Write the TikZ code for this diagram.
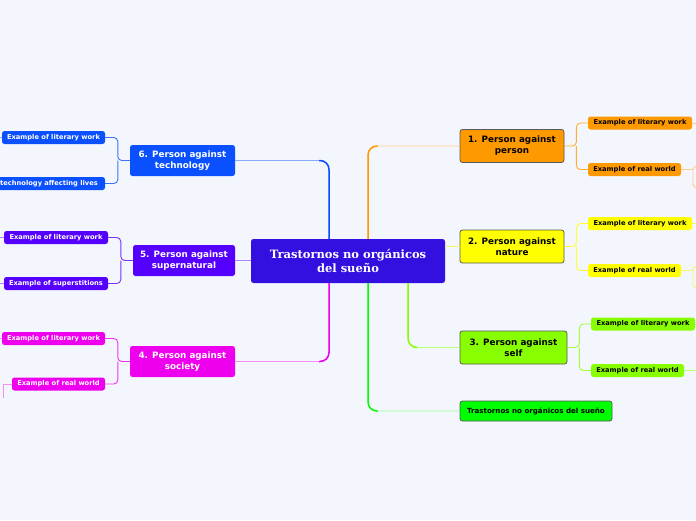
\documentclass[tikz,border=0pt]{standalone}
\usepackage{fontspec}
\setmainfont{DejaVu Sans}
\newfontfamily\centerfont{DejaVu Serif}
\begin{document}
\begin{tikzpicture}[x=1pt,y=-1pt,
  every node/.style={inner sep=0pt, align=center, rounded corners=2.5pt},
  centerbox/.style={fill=cCenter, text=white, minimum width=194pt, minimum height=44pt, font=\centerfont\bfseries\fontsize{11.5}{14.5}\selectfont},
  rbranch/.style={draw=black!65, line width=0.8pt, text=black, minimum height=33pt, font=\bfseries\fontsize{8.8}{11}\selectfont},
  lbranch/.style={text=white, minimum height=31pt, font=\bfseries\fontsize{8.8}{11}\selectfont},
  rleaf/.style={text=black, minimum height=13pt, font=\bfseries\fontsize{6.7}{7}\selectfont},
  lleaf/.style={text=white, minimum height=13pt, font=\bfseries\fontsize{6.7}{7}\selectfont},
  link/.style={line width=0.9pt, rounded corners=9pt},
  stem/.style={line width=1.5pt, rounded corners=9pt},
  twig/.style={line width=0.9pt, rounded corners=4pt}]
\definecolor{bg}{HTML}{F3F6FD}
\definecolor{cCenter}{HTML}{3410E0}
\definecolor{cOr}{HTML}{FF9900}\definecolor{lOr}{HTML}{FFCC88}
\definecolor{cYe}{HTML}{FFFF00}\definecolor{lYe}{HTML}{F4F470}
\definecolor{cLi}{HTML}{88FF00}\definecolor{lLi}{HTML}{BBFF77}
\definecolor{cGr}{HTML}{00FF00}\definecolor{lGr}{HTML}{99FF99}
\definecolor{cBl}{HTML}{0A50FF}\definecolor{lBl}{HTML}{88AAFF}
\definecolor{cVi}{HTML}{5500FF}\definecolor{lVi}{HTML}{AA88FF}
\definecolor{cMa}{HTML}{EE00EE}\definecolor{lMa}{HTML}{F690F6}

\path[fill=bg] (0,0) rectangle (696,520);
\useasboundingbox (0,0) rectangle (696,520);

% nodes
\node[centerbox] (c) at (348,261) {Trastornos no orgánicos\\del sueño};
\node[rbranch, fill=cOr, minimum width=104pt] (n1) at (512,146) {1. Person against\\person};
\node[rbranch, fill=cYe, minimum width=104pt] (n2) at (512,246.5) {2. Person against\\nature};
\node[rbranch, fill=cLi, minimum width=107pt] (n3) at (513.5,347.5) {3. Person against\\self};
\node[rbranch, fill=cGr, minimum width=152pt, minimum height=20pt, font=\bfseries\fontsize{7.1}{8}\selectfont] (ng) at (536,411) {Trastornos no orgánicos del sueño};
\node[lbranch, fill=cBl, minimum width=105pt] (n6) at (182.5,160.5) {6. Person against\\technology};
\node[lbranch, fill=cVi, minimum width=102pt] (n5) at (184,260.5) {5. Person against\\supernatural};
\node[lbranch, fill=cMa, minimum width=105pt] (n4) at (182.5,361.5) {4. Person against\\society};

\node[rleaf, fill=cOr, minimum width=104pt] (o1) at (640,123) {Example of literary work};
\node[rleaf, fill=cOr, minimum width=93pt] (o2) at (634.5,169.5) {Example of real world};
\node[rleaf, fill=cYe, minimum width=104pt] (y1) at (640,223.5) {Example of literary work};
\node[rleaf, fill=cYe, minimum width=93pt] (y2) at (634.5,270.5) {Example of real world};
\node[rleaf, fill=cLi, minimum width=104pt] (l1) at (643,324) {Example of literary work};
\node[rleaf, fill=cLi, minimum width=93pt] (l2) at (637.5,370.5) {Example of real world};

\node[lleaf, fill=cBl, minimum width=103pt] (b1) at (53.5,137.5) {Example of literary work};
\node[lleaf, fill=cBl, minimum width=112pt] (b2) at (49,183.5) {technology affecting lives};
\node[lleaf, fill=cVi, minimum width=104pt] (p1) at (56,237.5) {Example of literary work};
\node[lleaf, fill=cVi, minimum width=104pt] (p2) at (56,283.5) {Example of superstitions};
\node[lleaf, fill=cMa, minimum width=103pt] (m1) at (53.5,338.5) {Example of literary work};
\node[lleaf, fill=cMa, minimum width=93pt] (m2) at (58.5,384) {Example of real world};

% main connectors: light full path, then saturated stem with its corner
\draw[link, lBl] ([xshift=-19pt]c.north) |- (n6.east);
\draw[stem, cBl] ([xshift=-19pt]c.north) |- ([xshift=84pt]n6.east);
\draw[link, lOr] ([xshift=20pt]c.north) |- (n1.west);
\draw[stem, cOr] ([xshift=20pt]c.north) |- ([xshift=-82pt]n1.west);
\draw[link, lYe] (c.east |- n2.west) -- (n2.west);
\draw[link, lVi] (c.west |- n5.east) -- (n5.east);
\draw[link, lMa] ([xshift=-19pt]c.south) |- (n4.east);
\draw[stem, cMa] ([xshift=-19pt]c.south) |- ([xshift=84pt]n4.east);
\draw[link, lLi] ([xshift=60pt]c.south) |- (n3.west);
\draw[stem, cLi] ([xshift=60pt]c.south) |- ([xshift=-42pt]n3.west);
\draw[link, lGr] ([xshift=20pt]c.south) |- (ng.west);
\draw[stem, cGr] ([xshift=20pt]c.south) |- ([xshift=-82pt]ng.west);

% branch connectors
\foreach \p/\a/\b/\col/\dx in {n1/o1/o2/cOr/12, n2/y1/y2/cYe/12, n3/l1/l2/cLi/12}{
  \draw[twig, \col!80!white] (\p.east) -- ++(\dx,0) coordinate (j) |- (\a.west);
  \draw[twig, \col!80!white] (j) |- (\b.west);
}
\foreach \p/\a/\b/\col in {n6/b1/b2/cBl, n5/p1/p2/cVi, n4/m1/m2/cMa}{
  \draw[twig, \col!80!white] (\p.west) -- ++(-12,0) coordinate (j) |- (\a.east);
  \draw[twig, \col!80!white] (j) |- (\b.east);
}

% stubs to off-screen children
\coordinate (eo) at (697,166); \coordinate (ey) at (697,266); \coordinate (el) at (697,366);
\draw[twig, lOr] (o1.east) -- (o1.east -| eo);
\draw[twig, lOr] (o2.east) -- ++(12,0);
\draw[twig, lOr] (eo) -- ++(-4,0) -- ++(0,22) -- ++(4,0);
\draw[twig, lYe] (y1.east) -- (y1.east -| ey);
\draw[twig, lYe] (y2.east) -- ++(12,0);
\draw[twig, lYe] (ey) -- ++(-4,0) -- ++(0,22) -- ++(4,0);
\draw[twig, lLi] (l1.east) -- (l1.east -| el);
\draw[twig, lLi] (l2.east) -- ++(12,0) coordinate (jl);
\draw[twig, lLi] (jl) -- ++(0,15);
\draw[twig, lMa] (m2.west) -- ++(-8,0) coordinate (jm);
\draw[twig, lMa] (jm) -- ++(0,14);
\draw[twig, lBl] (b1.west) -- ++(-4,0);
\draw[twig, lVi] (p1.west) -- ++(-6,0);
\draw[twig, lVi] (p2.west) -- ++(-6,0);
\draw[twig, lMa] (m1.west) -- ++(-4,0);
\end{tikzpicture}
\end{document}
